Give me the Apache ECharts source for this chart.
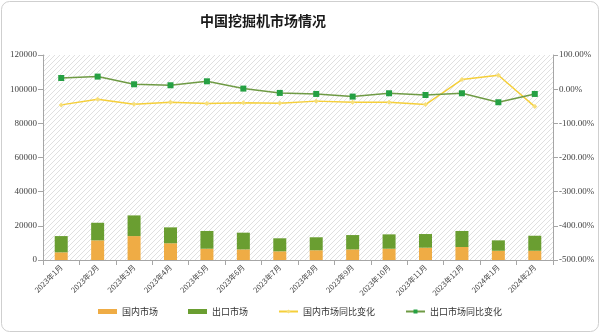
<!DOCTYPE html>
<html>
<head>
<meta charset="utf-8">
<script src="https://cdn.jsdelivr.net/npm/echarts@6/dist/echarts.min.js"></script>
<style>
  html, body { margin: 0; padding: 0; background: #ffffff; }
  #chart { width: 600px; height: 333px; }
</style>
</head>
<body>
<div id="chart"></div>
<script>
// Months shown on the category axis
const months = ['2023年1月', '2023年2月', '2023年3月', '2023年4月', '2023年5月', '2023年6月', '2023年7月',
  '2023年8月', '2023年9月', '2023年10月', '2023年11月', '2023年12月', '2024年1月', '2024年2月'];

// Unit sales (台)
const domesticSales = [4500, 11500, 14000, 9800, 6600, 6200, 5100, 5700, 6200, 6600, 7200, 7600, 5400, 5400];
const exportSales = [9500, 10300, 12100, 9300, 10400, 9800, 7600, 7600, 8400, 8400, 8000, 9400, 6100, 8800];

// Year-on-year change, percent
const domesticYoY = [-46, -29.5, -44, -38, -42, -40, -41, -35, -38, -38, -45, 28, 40.6, -51];
const exportYoY = [32.7, 36.8, 14.3, 11.4, 23, 1.7, -11, -14, -21.7, -12, -17, -12, -38.3, -14];

// Light diagonal hatching for the plotting area
function makeHatch() {
  const c = document.createElement('canvas');
  const s = 5;
  c.width = s; c.height = s;
  const g = c.getContext('2d');
  g.fillStyle = '#ffffff';
  g.fillRect(0, 0, s, s);
  g.strokeStyle = '#e0e0e0';
  g.lineWidth = 1;
  g.beginPath();
  g.moveTo(-1, s + 1); g.lineTo(s + 1, -1);
  g.moveTo(-1, 1); g.lineTo(1, -1);
  g.moveTo(s - 1, s + 1); g.lineTo(s + 1, s - 1);
  g.stroke();
  return { image: c, repeat: 'repeat' };
}

const serif = '"Liberation Serif", "DejaVu Serif", serif';
const cjk = '"Noto Sans CJK SC", sans-serif';
const axisGrey = '#a6a6a6';

const chart = echarts.init(document.getElementById('chart'), null, { renderer: 'canvas' });

chart.setOption({
  backgroundColor: '#ffffff',
  animation: false,
  graphic: [{
    type: 'rect',
    shape: { x: 1.5, y: 1.5, width: 597, height: 330, r: 8 },
    style: { fill: 'none', stroke: '#cfcfcf', lineWidth: 1 },
    z: -1
  }],
  title: {
    text: '中国挖掘机市场情况',
    left: 195,
    top: 9,
    textStyle: { fontFamily: cjk, fontSize: 14, fontWeight: 'bold', color: '#1a1a1a' }
  },
  legend: {
    bottom: 12,
    left: 'center',
    itemGap: 30,
    itemWidth: 19,
    itemHeight: 5,
    textStyle: { fontFamily: cjk, fontSize: 9, color: '#333' },
    data: [
      { name: '国内市场', icon: 'rect' },
      { name: '出口市场', icon: 'rect' },
      { name: '国内市场同比变化' },
      { name: '出口市场同比变化' }
    ]
  },
  grid: {
    left: 43, right: 47, top: 55, bottom: 73,
    show: true,
    backgroundColor: makeHatch(),
    borderWidth: 0
  },
  xAxis: {
    type: 'category',
    data: months,
    axisLine: { lineStyle: { color: axisGrey } },
    axisTick: { show: true, alignWithLabel: false, lineStyle: { color: axisGrey } },
    axisLabel: { rotate: 45, fontFamily: cjk, fontSize: 7.5, color: '#444', margin: 6, interval: 0 }
  },
  yAxis: [{
    type: 'value',
    min: 0, max: 120000, interval: 20000,
    axisLine: { show: true, lineStyle: { color: axisGrey } },
    axisTick: { show: true, lineStyle: { color: axisGrey } },
    splitLine: { show: false },
    axisLabel: { fontFamily: serif, fontSize: 9, color: '#444', margin: 6, formatter: v => String(v) }
  }, {
    type: 'value',
    min: -500, max: 100, interval: 100,
    position: 'right',
    axisLine: { show: true, lineStyle: { color: axisGrey } },
    axisTick: { show: true, lineStyle: { color: axisGrey } },
    splitLine: { show: false },
    axisLabel: {
      fontFamily: serif, fontSize: 9, color: '#444', margin: 6,
      formatter: v => v.toFixed(2) + '%'
    }
  }],
  series: [{
    name: '国内市场',
    type: 'bar',
    stack: 'sales',
    barWidth: 13,
    itemStyle: { color: '#efac45' },
    data: domesticSales
  }, {
    name: '出口市场',
    type: 'bar',
    stack: 'sales',
    barWidth: 13,
    itemStyle: { color: '#6a9e31' },
    data: exportSales
  }, {
    name: '国内市场同比变化',
    type: 'line',
    yAxisIndex: 1,
    symbol: 'diamond',
    symbolSize: 5,
    lineStyle: { color: '#f5cf3a', width: 1.5 },
    itemStyle: { color: '#f7df7a', borderWidth: 0 },
    data: domesticYoY
  }, {
    name: '出口市场同比变化',
    type: 'line',
    yAxisIndex: 1,
    symbol: 'rect',
    symbolSize: 6,
    lineStyle: { color: '#6f9b45', width: 1.5 },
    itemStyle: { color: '#25a043', borderWidth: 0 },
    data: exportYoY
  }]
});
</script>
</body>
</html>
